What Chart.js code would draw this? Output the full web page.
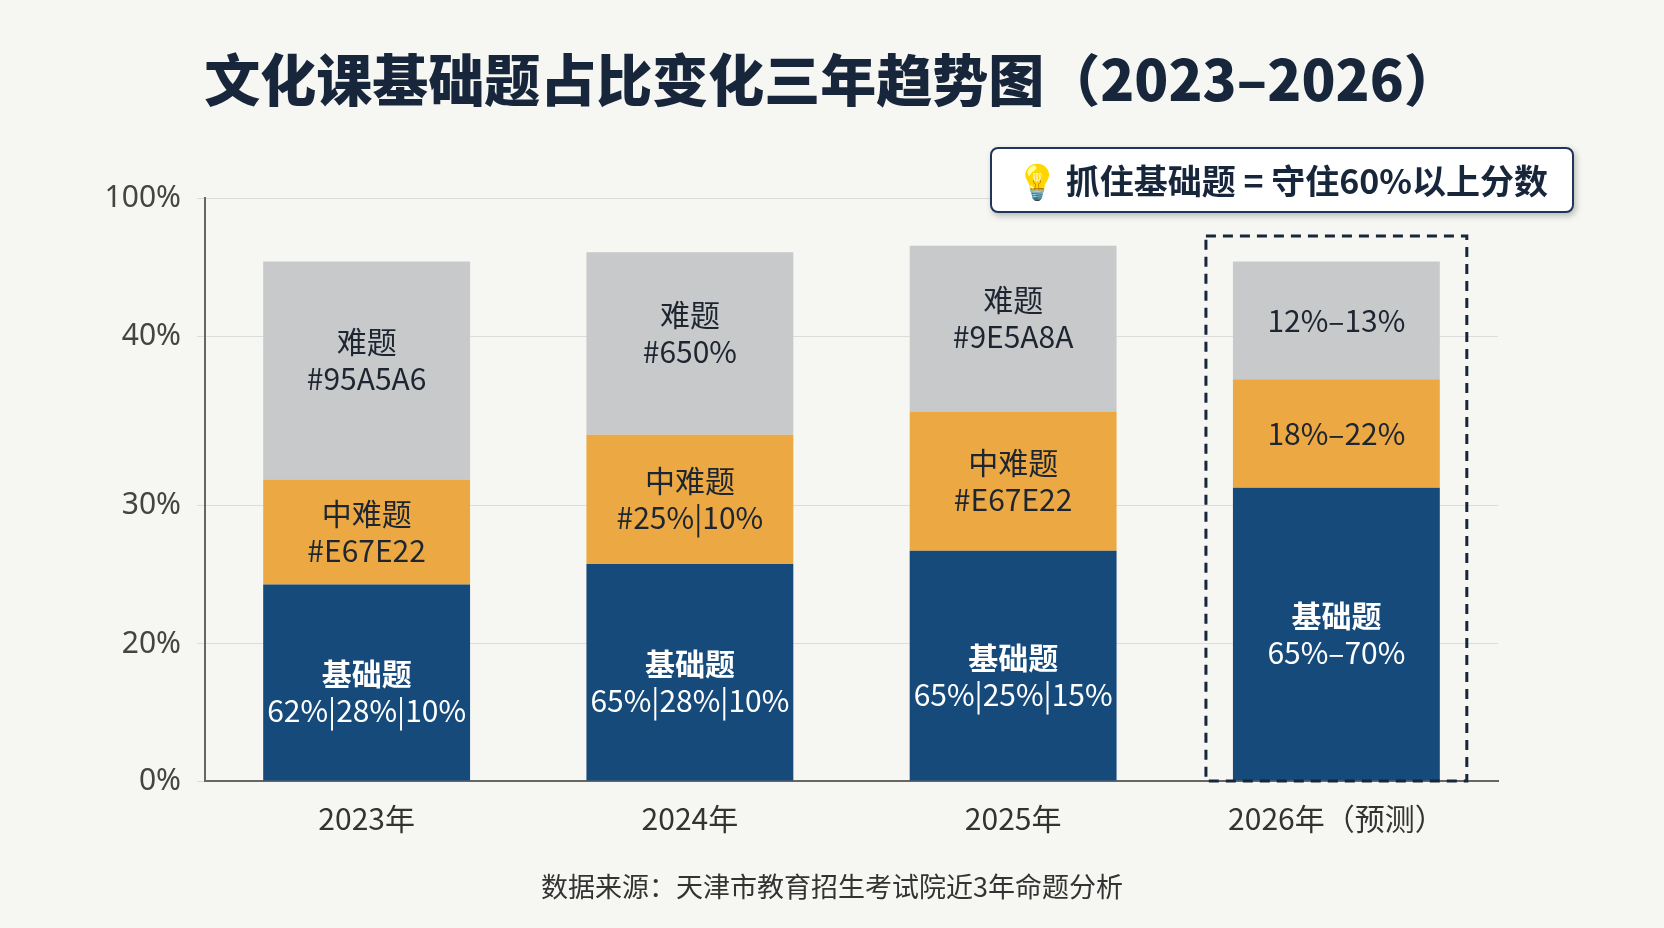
<!DOCTYPE html>
<html><head><meta charset="utf-8">
<script src="https://cdn.jsdelivr.net/npm/chart.js@4.4.0/dist/chart.umd.min.js"></script>
<style>
body{margin:0;background:#f6f6f2;font-family:"Noto Sans CJK SC","Noto Sans",sans-serif;}
#wrap{position:relative;width:1664px;height:928px;}
canvas{position:absolute;left:0;top:0;}
h1{position:absolute;left:0;width:1664px;top:36px;margin:0;text-align:center;font-size:56px;font-weight:900;color:#17263a;}
#tip{position:absolute;left:990px;top:147px;width:580px;height:62px;border:2px solid #20355a;border-radius:8px;background:#fff;box-shadow:2px 3px 6px rgba(0,0,0,.25);font-size:34px;font-weight:700;color:#17263a;line-height:62px;text-align:center;}
#src{position:absolute;left:0;width:1664px;top:866px;text-align:center;font-size:27px;color:#333;}
</style></head><body>
<div id="wrap">
<canvas id="c" width="1664" height="928"></canvas>
<h1>文化课基础题占比变化三年趋势图（2023–2026）</h1>
<div id="tip">💡 抓住基础题 = 守住60%以上分数</div>
<div id="src">数据来源：天津市教育招生考试院近3年命题分析</div>
</div>
<script>
const categories=['2023年','2024年','2025年','2026年（预测）'];
const basic=[33.7,37.2,39.5,50.3];
const mid=[18.0,22.2,23.9,18.6];
const hard=[37.4,31.3,28.4,20.2];
const tickVals=[0,23.5,47.2,76.3,100];
const tickLabels=['0%','20%','30%','40%','100%'];
const basicText=[['基础题','62%|28%|10%'],['基础题','65%|28%|10%'],['基础题','65%|25%|15%'],['基础题','65%–70%']];
const midText=[['中难题','#E67E22'],['中难题','#25%|10%'],['中难题','#E67E22'],['18%–22%']];
const hardText=[['难题','#95A5A6'],['难题','#650%'],['难题','#9E5A8A'],['12%–13%']];

const labelPlugin={id:'lbl',afterDatasetsDraw(ch){
  const ctx=ch.ctx,texts=[basicText,midText,hardText],colors=['#fff','#1d2530','#1d2530'];
  ch.data.datasets.forEach((ds,di)=>{
    ch.getDatasetMeta(di).data.forEach((bar,i)=>{
      const lines=texts[di][i],cy=(bar.y+bar.base)/2+(di==2&&i<3?-10:0)+(di==0&&i<3?10:0);
      ctx.save();ctx.fillStyle=colors[di];ctx.textAlign='center';ctx.textBaseline='middle';
      lines.forEach((t,k)=>{
        ctx.font=(k==0&&lines.length>1&&di==0?'bold ':'')+'30px "Noto Sans CJK SC"';
        ctx.fillText(t,bar.x,cy+(k-(lines.length-1)/2)*37);
      });
      ctx.restore();
    });
  });
  const b=ch.getDatasetMeta(2).data[3],ys=ch.scales.y;
  ctx.save();ctx.strokeStyle='#17263a';ctx.lineWidth=3;ctx.setLineDash([10,7]);
  ctx.strokeRect(b.x-b.width/2-27,ys.getPixelForValue(93.5),b.width+54,ys.getPixelForValue(0)-ys.getPixelForValue(93.5));
  ctx.restore();
}};

new Chart(document.getElementById('c'),{
  type:'bar',
  data:{labels:categories,datasets:[
    {data:basic,backgroundColor:'#154a7b'},
    {data:mid,backgroundColor:'#eba843'},
    {data:hard,backgroundColor:'#c8c9cb'}]},
  options:{responsive:false,animation:false,
    layout:{padding:{left:0,right:166,top:198,bottom:0}},
    plugins:{legend:{display:false},tooltip:{enabled:false}},
    datasets:{bar:{categoryPercentage:1,barPercentage:0.64}},
    scales:{
      x:{stacked:true,grid:{display:false},border:{color:'#666',width:2},
        ticks:{color:'#333',font:{size:30,family:'"Noto Sans CJK SC"'},padding:12},
        afterFit(s){s.height=147;}},
      y:{stacked:true,min:0,max:100,border:{color:'#666',width:2},
        grid:{color:'#dcdcdc',borderDash:[6,4]},
        afterBuildTicks(s){s.ticks=tickVals.map(v=>({value:v}));},
        ticks:{color:'#444',font:{size:30,family:'"Noto Sans"'},padding:16,
          callback:(v,i)=>tickLabels[i]},
        afterFit(s){s.width=205;}}
    }},
  plugins:[labelPlugin]
});
</script>
</body></html>
